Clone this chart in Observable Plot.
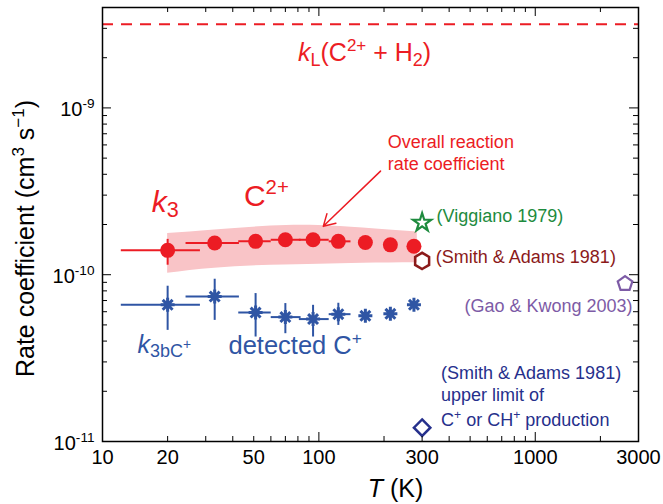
<!DOCTYPE html>
<html><head><meta charset="utf-8">
<script src="https://cdn.jsdelivr.net/npm/d3@7"></script>
<script src="https://cdn.jsdelivr.net/npm/@observablehq/plot@0.6"></script>
<style>body{margin:0;background:#fff;} svg{display:block;}</style>
</head><body><div id="chart"></div>
<script>
// ---- data ----
const temps   = [20, 33, 51, 70, 94, 123, 164, 214, 275];
const tempLo  = [12.15, 24.2, 42.4, 59.9, 80.8, 111, null, null, null];
const tempHi  = [28.2, 42.7, 59.9, 82.3, 111, 140, null, null, null];
const kTotal   = [1.40e-10, 1.55e-10, 1.585e-10, 1.62e-10, 1.62e-10, 1.585e-10, 1.56e-10, 1.51e-10, 1.48e-10];
const kTotalLo = [1.148e-10, null, null, null, null, null, null, null, null];
const kTotalHi = [1.64e-10, null, null, null, null, null, null, null, null];
const kCplus   = [6.60e-11, 7.40e-11, 5.93e-11, 5.57e-11, 5.42e-11, 5.80e-11, 5.67e-11, 5.83e-11, 6.60e-11];
const kCplusLo = [4.67e-11, 5.36e-11, 4.26e-11, 4.46e-11, 4.26e-11, 5.00e-11, null, null, null];
const kCplusHi = [8.59e-11, 9.46e-11, 7.76e-11, 6.76e-11, 6.60e-11, 6.79e-11, null, null, null];
const bandT  = [20, 33, 60, 100, 160, 285];
const bandHi = [1.764e-10, 1.852e-10, 1.957e-10, 1.970e-10, 1.904e-10, 1.801e-10];
const bandLo = [1.021e-10, 1.094e-10, 1.140e-10, 1.156e-10, 1.172e-10, 1.181e-10];
const kLangevin = 3.17e-9;
const refNames = ["Viggiano 1979", "Smith & Adams 1981", "Gao & Kwong 2003", "Smith & Adams 1981 (upper limit)"];
const refT = [300, 300, 2600, 300];
const refK = [2.05e-10, 1.21e-10, 8.83e-11, 1.21e-11];
const xMajor = [10, 100, 1000];
const xMinor = [20, 30, 40, 50, 60, 70, 80, 90, 200, 300, 400, 500, 600, 700, 800, 900, 2000, 3000];
const xTickLabels = [10, 20, 50, 100, 300, 1000, 3000];
const yMajor = [1e-11, 1e-10, 1e-9];
const yMinor = [2e-11, 3e-11, 4e-11, 5e-11, 6e-11, 7e-11, 8e-11, 9e-11,
                2e-10, 3e-10, 4e-10, 5e-10, 6e-10, 7e-10, 8e-10, 9e-10,
                2e-9, 3e-9, 4e-9];
const yTickLabels = ["10^{-11}", "10^{-10}", "10^{-9}"];

// ---- styling ----
const RED = "#ec1c24", BLUE = "#2f55a4", GREEN = "#1e8b3e", DARKRED = "#8b1a1a", PURPLE = "#7d5ba6", NAVY = "#26308c";
const W = 663, H = 504, mL = 102, mR = 25, mT = 7, mB = 63;
const pw = W - mL - mR, ph = H - mT - mB;
const FONT = '"Liberation Sans", Arial, Helvetica, sans-serif';

const rowsTot = temps.map((T, i) => ({T, k: kTotal[i], tlo: tempLo[i], thi: tempHi[i], klo: kTotalLo[i], khi: kTotalHi[i]}));
const rowsC = temps.map((T, i) => ({T, k: kCplus[i], tlo: tempLo[i], thi: tempHi[i], klo: kCplusLo[i], khi: kCplusHi[i]}));
const band = bandT.map((T, i) => ({T, lo: bandLo[i], hi: bandHi[i]}));
const refs = refNames.map((n, i) => ({name: n, T: refT[i], k: refK[i]}));

const pentagon = {
  draw(ctx, size) {
    const r = Math.sqrt(size / Math.PI) * 1.1;
    for (let i = 0; i < 5; i++) {
      const a = -Math.PI / 2 + i * 2 * Math.PI / 5;
      const x = r * Math.cos(a), y = r * Math.sin(a);
      if (i === 0) ctx.moveTo(x, y); else ctx.lineTo(x, y);
    }
    ctx.closePath();
  }
};
const asterisk8 = {
  draw(ctx, size) {
    const r = Math.sqrt(size / Math.PI);
    for (let i = 0; i < 4; i++) {
      const a = i * Math.PI / 4;
      const c = r * Math.cos(a), s = r * Math.sin(a);
      ctx.moveTo(c, s); ctx.lineTo(-c, -s);
    }
  }
};

const plot = Plot.plot({
  width: W, height: H, marginLeft: mL, marginRight: mR, marginTop: mT, marginBottom: mB,
  style: {fontFamily: FONT, background: "white", overflow: "visible", color: "black"},
  x: {type: "log", domain: [10, 3000], axis: null},
  y: {type: "log", domain: [1e-11, 4e-9], axis: null},
  marks: [
    Plot.areaY(band, {x: "T", y1: "lo", y2: "hi", fill: "#f9c4c7", curve: "natural"}),
    Plot.ruleY([kLangevin], {stroke: RED, strokeWidth: 2, strokeDasharray: "11,8"}),
    // error bars
    Plot.link(rowsTot.filter(d => d.tlo != null), {x1: "tlo", x2: "thi", y1: "k", y2: "k", stroke: RED, strokeWidth: 2}),
    Plot.link(rowsTot.filter(d => d.klo != null), {x1: "T", x2: "T", y1: "klo", y2: "khi", stroke: RED, strokeWidth: 2}),
    Plot.link(rowsC.filter(d => d.tlo != null), {x1: "tlo", x2: "thi", y1: "k", y2: "k", stroke: BLUE, strokeWidth: 2}),
    Plot.link(rowsC.filter(d => d.klo != null), {x1: "T", x2: "T", y1: "klo", y2: "khi", stroke: BLUE, strokeWidth: 2}),
    Plot.dot(rowsTot, {x: "T", y: "k", r: 7.5, fill: RED}),
    Plot.dot(rowsC, {x: "T", y: "k", r: 7, symbol: asterisk8, stroke: BLUE, strokeWidth: 3}),
    // literature markers
    Plot.dot([refs[0]], {x: "T", y: "k", r: 5.7, symbol: "star", fill: "none", stroke: GREEN, strokeWidth: 2.2}),
    Plot.dot([refs[1]], {x: "T", y: "k", r: 7, symbol: "hexagon", fill: "none", stroke: DARKRED, strokeWidth: 2.5}),
    Plot.dot([refs[2]], {x: "T", y: "k", r: 7, symbol: pentagon, fill: "none", stroke: PURPLE, strokeWidth: 2.2}),
    Plot.dot([refs[3]], {x: "T", y: "k", r: 7.4, symbol: "diamond2", fill: "none", stroke: NAVY, strokeWidth: 2.5}),
    // literature labels
    Plot.text([{T: 349.5, k: 2.24e-10}], {x: "T", y: "k", text: () => "(Viggiano 1979)", fill: GREEN, fontSize: 18, textAnchor: "start"}),
    Plot.text([{T: 347, k: 1.27e-10}], {x: "T", y: "k", text: () => "(Smith & Adams 1981)", fill: DARKRED, fontSize: 18, textAnchor: "start"}),
    Plot.text([{T: 2817, k: 6.45e-11}], {x: "T", y: "k", text: () => "(Gao & Kwong 2003)", fill: PURPLE, fontSize: 18, textAnchor: "end"}),
    Plot.text([{T: 367, k: 2.56e-11, s: "(Smith & Adams 1981)"}, {T: 367, k: 1.90e-11, s: "upper limit of"}, {T: 367, k: 1.343e-11, s: "C^{+} or CH^{+} production"}],
      {x: "T", y: "k", text: "s", fill: NAVY, fontSize: 18, textAnchor: "start"}),
    // annotations
    Plot.text([{T: 162.6, k: 2.13e-9}], {x: "T", y: "k", text: () => "*k*_{L}(C^{2+} + H_{2})", fill: RED, fontSize: 25, textAnchor: "middle"}),
    Plot.text([{T: 208.3, k: 5.45e-10}], {x: "T", y: "k", text: () => "Overall reaction\nrate coefficient", fill: RED, fontSize: 18, lineHeight: 1.2, textAnchor: "start"}),
    Plot.arrow([{x1: 192.7, y1: 4.18e-10, x2: 104.8, y2: 1.95e-10}], {x1: "x1", y1: "y1", x2: "x2", y2: "y2", stroke: RED, strokeWidth: 1.5, headLength: 13}),
    Plot.text([{T: 16.9, k: 2.38e-10}], {x: "T", y: "k", text: () => "*k*_{3}", fill: RED, fontSize: 30, textAnchor: "start", lineAnchor: "bottom"}),
    Plot.text([{T: 45.05, k: 2.574e-10}], {x: "T", y: "k", text: () => "C^{2+}", fill: RED, fontSize: 30, textAnchor: "start", lineAnchor: "bottom"}),
    Plot.text([{T: 14.5, k: 3.40e-11}], {x: "T", y: "k", text: () => "*k*_{3bC}~{+}", fill: BLUE, fontSize: 25, textAnchor: "start", lineAnchor: "bottom"}),
    Plot.text([{T: 38.2, k: 3.35e-11}], {x: "T", y: "k", text: () => "detected C^{+}", fill: BLUE, fontSize: 25.5, textAnchor: "start", lineAnchor: "bottom"}),
    // ticks (inward)
    Plot.tickX(xMinor, {x: d => d, insetTop: ph - 5, stroke: "black"}),
    Plot.tickX(xMajor, {x: d => d, insetTop: ph - 9, stroke: "black"}),
    Plot.tickX(xMinor, {x: d => d, insetBottom: ph - 5, stroke: "black"}),
    Plot.tickX(xMajor, {x: d => d, insetBottom: ph - 9, stroke: "black"}),
    Plot.tickY(yMinor, {y: d => d, insetRight: pw - 5, stroke: "black"}),
    Plot.tickY(yMajor, {y: d => d, insetRight: pw - 9, stroke: "black"}),
    Plot.tickY(yMinor, {y: d => d, insetLeft: pw - 5, stroke: "black"}),
    Plot.tickY(yMajor, {y: d => d, insetLeft: pw - 9, stroke: "black"}),
    Plot.frame({stroke: "black", strokeWidth: 1.5}),
    // tick labels
    Plot.text(xTickLabels, {x: d => d, frameAnchor: "bottom", dy: 22, text: d => String(d), fontSize: 20, fill: "black"}),
    Plot.text(yMajor, {y: d => d, frameAnchor: "left", textAnchor: "end", dx: -8, dy: 2, text: (d, i) => yTickLabels[i], fontSize: 20, fill: "black"}),
    // axis titles
    Plot.text([0], {frameAnchor: "bottom", dx: 25, dy: 55, text: () => "*T* (K)", fontSize: 25, lineAnchor: "bottom", fill: "black"}),
    Plot.text([0], {frameAnchor: "left", dx: -77, dy: 14, textAnchor: "middle", text: () => "Rate coefficient (cm^{3} s^{−1})", fontSize: 25, rotate: -90, fill: "black"})
  ]
});

// rich text: ^{sup} _{sub} ~{sub-sup} *italic*
const NS = "http://www.w3.org/2000/svg";
plot.querySelectorAll("text").forEach(el => {
  if (el.querySelector("tspan")) return;
  const s = el.textContent;
  if (!/\^\{|_\{|~\{|\*/.test(s)) return;
  const g = el.closest("[font-size]");
  const fs = g ? parseFloat(g.getAttribute("font-size")) : 20;
  el.textContent = "";
  const re = /\^\{([^}]*)\}|_\{([^}]*)\}|~\{([^}]*)\}|\*([^*]*)\*|([^^_~*]+)/g;
  let m, prev = 0;
  while ((m = re.exec(s))) {
    let txt, size = 1, off = 0, it = false;
    if (m[1] != null) { txt = m[1]; size = 0.68; off = -0.4; }
    else if (m[2] != null) { txt = m[2]; size = 0.72; off = 0.18; }
    else if (m[3] != null) { txt = m[3]; size = 0.55; off = -0.15; }
    else if (m[4] != null) { txt = m[4]; it = true; }
    else txt = m[5];
    const t = document.createElementNS(NS, "tspan");
    t.textContent = txt;
    if (size !== 1) t.setAttribute("font-size", (fs * size).toFixed(1));
    const dy = (off - prev) * fs;
    if (Math.abs(dy) > 1e-6) t.setAttribute("dy", dy.toFixed(2));
    if (it) t.setAttribute("font-style", "italic");
    prev = off;
    el.appendChild(t);
  }
});

document.getElementById("chart").appendChild(plot);
</script>
</body></html>
